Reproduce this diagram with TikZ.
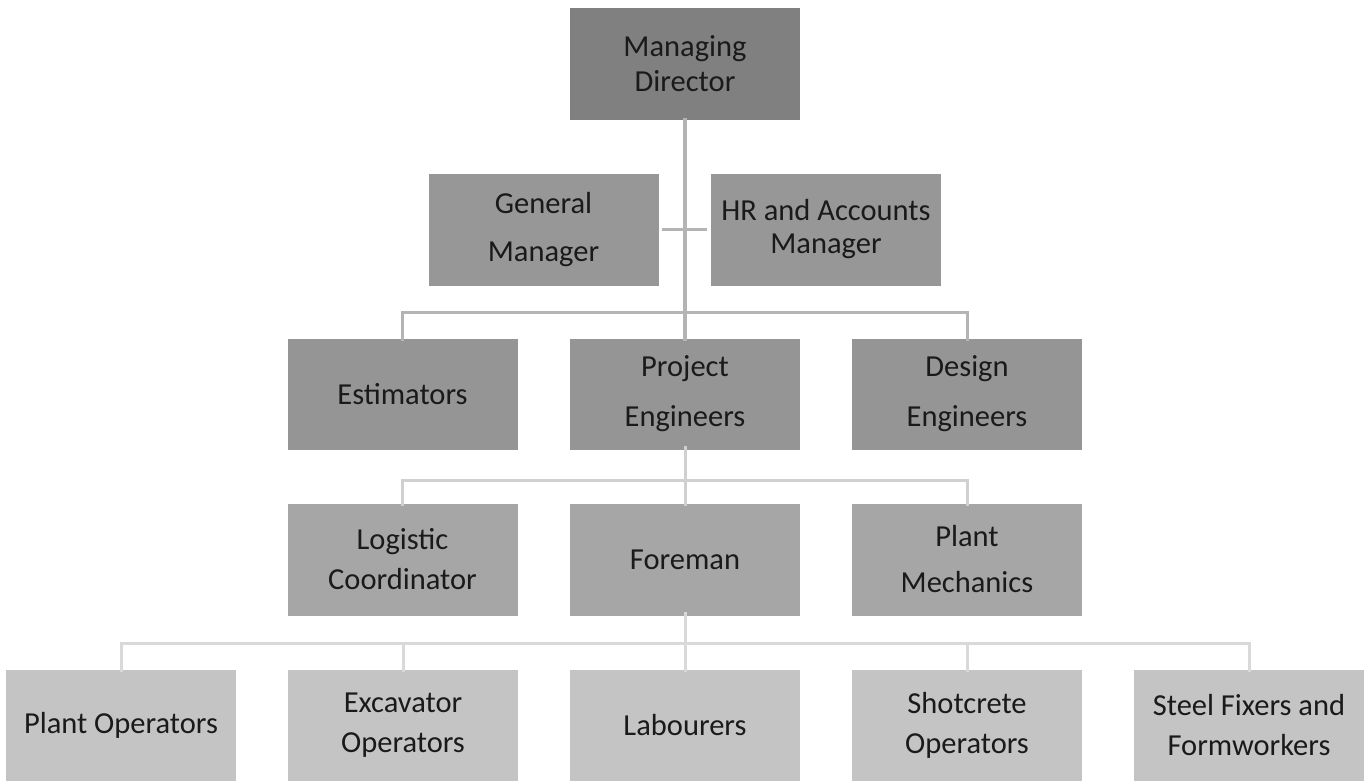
\documentclass[tikz,border=0pt]{standalone}
\usepackage{fontspec}
\setmainfont{Carlito}
\definecolor{cMD}{HTML}{808080}
\definecolor{cL2}{HTML}{979797}
\definecolor{cL3}{HTML}{959595}
\definecolor{cL4}{HTML}{A6A6A6}
\definecolor{cL5}{HTML}{C4C4C4}
\definecolor{lnA}{HTML}{B4B4B4}
\definecolor{lnB}{HTML}{D0D0D0}
\definecolor{lnC}{HTML}{D9D9D9}
\definecolor{txt}{HTML}{1A1A1A}
\tikzset{
  orgbox/.style={draw=white, line width=0.8pt, inner sep=0pt, align=center, text=txt,
    minimum width=231pt, minimum height=113pt, font=\fontsize{30.5}{40}\selectfont},
  ls/.style={font=\fontsize{30.5}{#1}\selectfont},
  connA/.style={draw=lnA, line width=3pt},
  connB/.style={draw=lnB, line width=3pt},
  connC/.style={draw=lnC, line width=3pt},
}
\begin{document}
\begin{tikzpicture}[x=1pt,y=-1pt]
\useasboundingbox (0,0) rectangle (1369,781);
% nodes
\node[orgbox, fill=cMD, ls=35] (md) at (685,64) {Managing\\Director};
\node[orgbox, fill=cL2, ls=48] (gm) at (543.5,229.5) {General\\Manager};
\node[orgbox, fill=cL2, ls=33] (hr) at (826,229.5) {HR and Accounts\\Manager};
\node[orgbox, fill=cL3, minimum height=112pt] (est) at (402.5,394) {Estimators};
\node[orgbox, fill=cL3, minimum height=112pt, ls=50] (pe) at (685,394) {Project\\Engineers};
\node[orgbox, fill=cL3, minimum height=112pt, ls=50] (de) at (967,394) {Design\\Engineers};
\node[orgbox, fill=cL4] (lc) at (402.5,559.5) {Logistic\\Coordinator};
\node[orgbox, fill=cL4] (fm) at (685,559.5) {Foreman};
\node[orgbox, fill=cL4, ls=46] (pm) at (967,559.5) {Plant\\Mechanics};
\node[orgbox, fill=cL5] (po) at (121,725.5) {Plant Operators};
\node[orgbox, fill=cL5] (eo) at (403,725.5) {Excavator\\Operators};
\node[orgbox, fill=cL5] (lb) at (685,725.5) {Labourers};
\node[orgbox, fill=cL5] (so) at (967,725.5) {Shotcrete\\Operators};
\node[orgbox, fill=cL5] (sf) at (1249,725.5) {Steel Fixers and\\Formworkers};
% junction coordinates
\coordinate (j1) at (685,312);
\coordinate (j2) at (685,480);
\coordinate (j3) at (685,643);
% top connectors
\draw[connA, line width=4pt] ([yshift=3pt]md.south) -- ([yshift=-3pt]pe.north);
\draw[connA] ([xshift=3pt]gm.east) -- ([xshift=-3pt]hr.west);
\draw[connA] ([yshift=-3pt]est.north) -- (est.north |- j1) -- (de.north |- j1) -- ([yshift=-3pt]de.north);
% level 3 to 4
\draw[connB] ([yshift=4pt]pe.south) -- ([yshift=-3pt]fm.north);
\draw[connB] ([yshift=-3pt]lc.north) -- (lc.north |- j2) -- (pm.north |- j2) -- ([yshift=-3pt]pm.north);
% level 4 to 5
\draw[connC] ([yshift=4pt]fm.south) -- ([yshift=-3pt]lb.north);
\draw[connC] ([yshift=-3pt]po.north) -- (po.north |- j3) -- (sf.north |- j3) -- ([yshift=-3pt]sf.north);
\draw[connC] (eo.north |- j3) -- ([yshift=-3pt]eo.north);
\draw[connC] (so.north |- j3) -- ([yshift=-3pt]so.north);
\end{tikzpicture}
\end{document}
